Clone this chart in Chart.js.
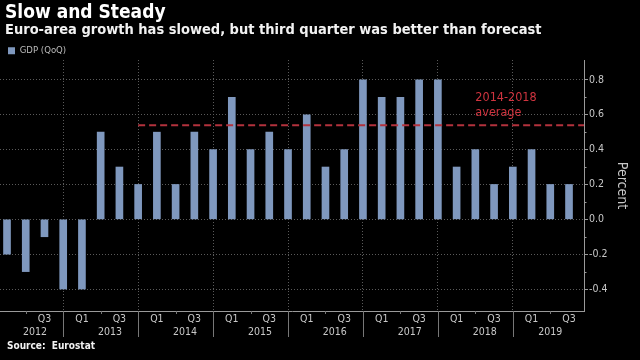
<!DOCTYPE html>
<html>
<head>
<meta charset="utf-8">
<script src="https://cdn.jsdelivr.net/npm/chart.js@4.4.1/dist/chart.umd.min.js"></script>
<style>
  html, body { margin: 0; background: #000; }
  canvas { display: block; }
</style>
</head>
<body>
<canvas id="gdp-chart" width="640" height="360"></canvas>
<script>
// Slow and Steady - euro-area GDP, quarter on quarter (Eurostat)

// ── data ──────────────────────────────────────────────────────────────────────
const categories = [
    '2012 Q1', '2012 Q2', '2012 Q3', '2012 Q4',
    '2013 Q1', '2013 Q2', '2013 Q3', '2013 Q4',
    '2014 Q1', '2014 Q2', '2014 Q3', '2014 Q4',
    '2015 Q1', '2015 Q2', '2015 Q3', '2015 Q4',
    '2016 Q1', '2016 Q2', '2016 Q3', '2016 Q4',
    '2017 Q1', '2017 Q2', '2017 Q3', '2017 Q4',
    '2018 Q1', '2018 Q2', '2018 Q3', '2018 Q4',
    '2019 Q1', '2019 Q2', '2019 Q3'
];
const gdp = [
    -0.2, -0.3, -0.1, -0.4,
    -0.4, 0.5, 0.3, 0.2,
    0.5, 0.2, 0.5, 0.4,
    0.7, 0.4, 0.5, 0.4,
    0.6, 0.3, 0.4, 0.8,
    0.7, 0.7, 0.8, 0.8,
    0.3, 0.4, 0.2, 0.3,
    0.4, 0.2, 0.2
];
const years = ['2012', '2013', '2014', '2015', '2016', '2017', '2018', '2019'];
const yTicks = [-0.4, -0.2, 0, 0.2, 0.4, 0.6, 0.8];
const shownQuarters = ['Q1', 'Q3'];

const AVERAGE = 0.54;            // 2014-2018 average
const AVERAGE_FROM = '2013 Q4';
const AVERAGE_LABEL = ['2014-2018', 'average'];
const LABEL_AT = '2018 Q2';

// ── look ──────────────────────────────────────────────────────────────────────
const FONT = '"DejaVu Sans Condensed", "DejaVu Sans"';
const BAR = '#7f98be';
const AXIS = '#9a9a9a';
const GRID = '#5a5a5a';
const TEXT = '#c8c8c8';
const RED_LINE = '#b3323d';
const RED_TEXT = '#d0343f';

Chart.defaults.font.family = FONT;

const quarterOf = i => categories[i].split(' ')[1];

const decor = {
    id: 'decor',
    beforeLayout(chart) {
        // pin the legend strip height so the plot starts where the original does
        const lg = chart.legend;
        if (lg && !lg._pinned) {
            const fit = lg.fit;
            lg.fit = function () { fit.call(this); this.height = 22; };
            lg._pinned = true;
        }
    },
    beforeDraw(chart) {
        const c = chart.ctx;
        c.save();
        c.fillStyle = '#000';
        c.fillRect(0, 0, chart.width, chart.height);
        c.restore();
    },
    afterDatasetsDraw(chart) {
        const { ctx: c, chartArea, scales: { x, y } } = chart;
        const py = y.getPixelForValue(AVERAGE);
        c.save();
        c.strokeStyle = RED_LINE;
        c.lineWidth = 2;
        c.setLineDash([7, 4]);
        c.beginPath();
        c.moveTo(x.getPixelForValue(categories.indexOf(AVERAGE_FROM)), py);
        c.lineTo(chartArea.right, py);
        c.stroke();
        c.restore();
    },
    afterDraw(chart) {
        const { ctx: c, chartArea, scales: { x, y } } = chart;
        c.save();

        // header + source
        c.textBaseline = 'alphabetic';
        c.textAlign = 'left';
        c.fillStyle = '#ffffff';
        c.font = `bold 19px ${FONT}`;
        c.fillText('Slow and Steady', 5, 17.5);
        c.fillStyle = '#f2f2f2';
        c.font = `bold 14.5px ${FONT}`;
        c.fillText('Euro-area growth has slowed, but third quarter was better than forecast', 5, 33.5);
        c.font = `bold 10px ${FONT}`;
        c.fillText('Source:  Eurostat', 7, 348.5);

        // year separators and half-year ticks under the axis
        c.strokeStyle = '#777';
        c.lineWidth = 1;
        categories.forEach((cat, i) => {
            const px = Math.round(x.getPixelForValue(i)) + 0.5;
            const q = quarterOf(i);
            let len = 0;
            if (q === 'Q4') len = 26;
            else if (q === 'Q2') len = 3;
            if (!len) return;
            c.beginPath();
            c.moveTo(px, chartArea.bottom);
            c.lineTo(px, chartArea.bottom + len);
            c.stroke();
        });

        // year labels centred under their quarters
        c.fillStyle = TEXT;
        c.font = `10.5px ${FONT}`;
        c.textAlign = 'center';
        c.textBaseline = 'middle';
        years.forEach(yr => {
            const idx = categories.map((cat, i) => cat.startsWith(yr) ? i : -1).filter(i => i >= 0);
            const mid = (idx[0] + idx[idx.length - 1]) / 2;
            c.fillText(yr, x.getPixelForValue(mid), 332.5);
        });

        // minor ticks on the value axis
        c.strokeStyle = AXIS;
        for (let k = 0; k < yTicks.length - 1; k++) {
            const py = Math.round(y.getPixelForValue((yTicks[k] + yTicks[k + 1]) / 2)) + 0.5;
            c.beginPath();
            c.moveTo(chartArea.right, py);
            c.lineTo(chartArea.right + 2.5, py);
            c.stroke();
        }

        // average annotation
        c.fillStyle = RED_TEXT;
        c.font = `12.5px ${FONT}`;
        c.textAlign = 'left';
        c.textBaseline = 'alphabetic';
        const lx = x.getPixelForValue(categories.indexOf(LABEL_AT));
        c.fillText(AVERAGE_LABEL[0], lx, y.getPixelForValue(0.68));
        c.fillText(AVERAGE_LABEL[1], lx, y.getPixelForValue(0.59));

        c.restore();
    }
};

new Chart(document.getElementById('gdp-chart'), {
    type: 'bar',
    data: {
        datasets: [{
            label: 'GDP (QoQ)',
            data: gdp.map((v, i) => ({ x: i, y: v })),
            backgroundColor: BAR,
            borderWidth: 0,
            barThickness: 7
        }]
    },
    options: {
        responsive: false,
        animation: false,
        devicePixelRatio: 1,
        layout: { padding: { top: 38, left: 0, right: 0, bottom: 0 } },
        plugins: {
            legend: {
                position: 'top',
                align: 'start',
                labels: { color: '#bbbbbb', font: { size: 9.5 }, boxWidth: 7, boxHeight: 7, padding: 8 }
            },
            tooltip: { enabled: false },
            title: { display: false }
        },
        scales: {
            x: {
                type: 'linear',
                offset: false,
                min: -0.374,
                max: categories.length - 1 + 0.8,
                afterBuildTicks: s => { s.ticks = categories.map((c, i) => ({ value: i })); },
                afterFit: s => { s.height = 49; },
                ticks: {
                    autoSkip: false,
                    maxRotation: 0,
                    padding: 2,
                    color: TEXT,
                    font: { size: 10.5 },
                    // the first quarter sits on the plot edge and is left unlabelled
                    callback: v => (v > 0 && shownQuarters.includes(quarterOf(v))) ? quarterOf(v) : ''
                },
                grid: {
                    offset: false,
                    drawTicks: false,
                    color: c => (c.tick && quarterOf(c.tick.value) === 'Q4') ? GRID : 'rgba(0,0,0,0)'
                },
                border: { color: AXIS, width: 1, dash: [1, 2] }
            },
            y: {
                position: 'right',
                min: -0.526,
                max: 0.914,
                afterBuildTicks: s => { s.ticks = yTicks.map(v => ({ value: v })); },
                afterFit: s => { s.width = 56; },
                ticks: {
                    color: TEXT,
                    font: { size: 10.5 },
                    padding: 1,
                    callback: v => v.toFixed(1)
                },
                grid: { color: GRID, tickColor: AXIS, tickLength: 4 },
                border: { color: AXIS, width: 1, dash: [1, 2] },
                title: {
                    display: true,
                    text: 'Percent',
                    color: TEXT,
                    font: { size: 14 },
                    padding: { top: 10, bottom: 0 }
                }
            }
        }
    },
    plugins: [decor]
});
</script>
</body>
</html>
